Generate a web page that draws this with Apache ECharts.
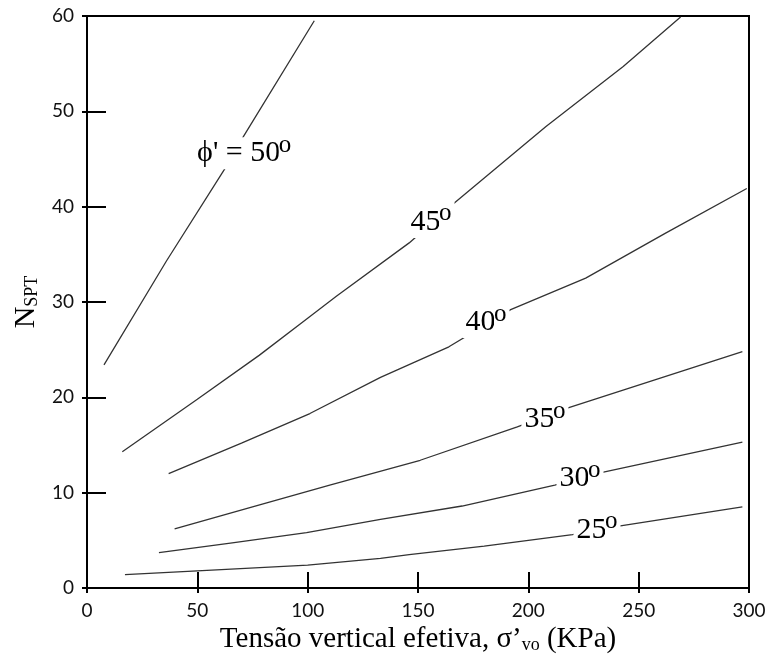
<!DOCTYPE html>
<html>
<head>
<meta charset="utf-8">
<script src="https://cdn.jsdelivr.net/npm/echarts@6/dist/echarts.min.js"></script>
<style>
  html, body { margin: 0; padding: 0; background: #fff; }
  #chart { width: 784px; height: 661px; }
</style>
</head>
<body>
<div id="chart"></div>
<script>
// N_SPT versus effective vertical stress, one curve per friction angle ϕ'
const xTicks = [0, 50, 100, 150, 200, 250, 300];
const yTicks = [0, 10, 20, 30, 40, 50, 60];

const curve50 = [[7.7, 23.4], [36, 34.3], [62.5, 44.0], [71, 47.4], [103, 59.5]];
const curve45 = [[16, 14.3], [50, 19.8], [78, 24.4], [100, 28.3], [113, 30.6], [146, 36.2], [167, 40.5], [208, 48.4], [243, 54.7], [269, 59.9]];
const curve40 = [[37, 12.0], [70, 15.2], [101, 18.3], [133, 22.1], [164, 25.3], [192, 29.2], [226, 32.5], [262, 37.2], [299, 41.9]];
const curve35 = [[39.7, 6.2], [75, 8.5], [110, 10.8], [151, 13.4], [195, 16.9], [218, 18.9], [297, 24.8]];
const curve30 = [[32.6, 3.7], [65, 4.7], [99.5, 5.8], [133, 7.2], [170, 8.6], [212, 10.8], [233, 12.1], [297, 15.3]];
const curve25 = [[17.2, 1.4], [50, 1.8], [100, 2.4], [133, 3.1], [146, 3.5], [180, 4.4], [220, 5.6], [241, 6.5], [297, 8.5]];

// friction angle labels and where they sit along each curve
const angleNames = ["ϕ' = 50", '45', '40', '35', '30', '25'];
const angleLabelAt = [[71.1, 45.6], [155.8, 38.4], [180.7, 27.9], [207.4, 17.7], [223.3, 11.5], [231, 6.1]];

const curves = [curve50, curve45, curve40, curve35, curve30, curve25];

const serif = '"Liberation Serif", "Times New Roman", serif';
const sans = 'Lato, "Open Sans", sans-serif';
const labelSize = 30;
const degreeSize = 25;

// text widths, so the raised degree mark can be placed right after each label
const measureCtx = document.createElement('canvas').getContext('2d');
function textWidth(text, size) {
  measureCtx.font = size + 'px ' + serif;
  return measureCtx.measureText(text).width;
}
const degreeWidth = textWidth('o', degreeSize);

const lineSeries = curves.map(function (c) {
  return {
    type: 'line',
    data: c,
    showSymbol: false,
    smooth: false,
    lineStyle: { color: '#333', width: 1.3 },
    silent: true,
    z: 2
  };
});

// angle values, shifted left by half the degree mark so the pair is centred
const labelSeries = {
  type: 'scatter',
  symbolSize: 0,
  silent: true,
  z: 5,
  itemStyle: { opacity: 1 },
  data: angleLabelAt.map(function (p, i) {
    return { value: p, name: angleNames[i] };
  }),
  label: {
    show: true,
    position: 'inside',
    offset: [-degreeWidth / 2, 0],
    formatter: '{b}',
    fontFamily: serif,
    fontSize: labelSize,
    color: '#000',
    lineHeight: 32,
    backgroundColor: '#fff',
    padding: [0, 1, 0, 3]
  }
};

// raised degree marks
const degreeSeries = {
  type: 'scatter',
  symbolSize: 0,
  silent: true,
  z: 6,
  itemStyle: { opacity: 1 },
  data: angleLabelAt.map(function (p, i) {
    const w = textWidth(angleNames[i], labelSize);
    return {
      value: p,
      name: 'o',
      label: { offset: [w / 2 + 1, -8] }
    };
  }),
  label: {
    show: true,
    position: 'inside',
    formatter: '{b}',
    fontFamily: serif,
    fontSize: degreeSize,
    color: '#000',
    lineHeight: 24,
    backgroundColor: '#fff',
    padding: [0, 3, 0, 0]
  }
};

const axisLine = { show: true, lineStyle: { color: '#000', width: 2 } };

const option = {
  backgroundColor: '#fff',
  animation: false,
  grid: {
    left: 87, right: 35, top: 16, bottom: 73,
    show: true, borderColor: '#000', borderWidth: 2
  },
  xAxis: [{
    type: 'value', min: xTicks[0], max: xTicks[xTicks.length - 1], interval: 50,
    axisLine: axisLine,
    axisTick: { show: true, inside: true, length: 16, lineStyle: { color: '#000', width: 2 } },
    axisLabel: { color: '#111', fontFamily: sans, fontSize: 19, margin: 13 },
    splitLine: { show: false },
    name: 'Tensão vertical efetiva, σ’{s|vo} (KPa)',
    nameLocation: 'middle',
    nameGap: 27,
    nameTextStyle: {
      fontFamily: serif, fontSize: 29, color: '#000',
      rich: { s: { fontFamily: serif, fontSize: 18, color: '#000', verticalAlign: 'bottom', padding: [5, 0, 0, 0] } }
    }
  }, {
    type: 'value', min: xTicks[0], max: xTicks[xTicks.length - 1], interval: 50,
    position: 'bottom',
    axisLine: { show: false },
    axisTick: { show: true, inside: false, length: 5, lineStyle: { color: '#000', width: 2 } },
    axisLabel: { show: false },
    splitLine: { show: false }
  }],
  yAxis: [{
    type: 'value', min: yTicks[0], max: yTicks[yTicks.length - 1], interval: 10,
    axisLine: axisLine,
    axisTick: { show: true, inside: true, length: 19, lineStyle: { color: '#000', width: 2 } },
    axisLabel: { color: '#111', fontFamily: sans, fontSize: 19, margin: 13 },
    splitLine: { show: false },
    name: '{n|N}{s|SPT}',
    nameLocation: 'middle',
    nameGap: 39,
    nameRotate: 90,
    nameTextStyle: {
      rich: {
        n: { fontFamily: serif, fontSize: 30, color: '#000' },
        s: { fontFamily: serif, fontSize: 18, color: '#000', verticalAlign: 'bottom' }
      }
    }
  }, {
    type: 'value', min: yTicks[0], max: yTicks[yTicks.length - 1], interval: 10,
    position: 'left',
    axisLine: { show: false },
    axisTick: { show: true, inside: false, length: 5, lineStyle: { color: '#000', width: 2 } },
    axisLabel: { show: false },
    splitLine: { show: false }
  }],
  series: lineSeries.concat([labelSeries, degreeSeries])
};

const chart = echarts.init(document.getElementById('chart'), null, { renderer: 'canvas' });
chart.setOption(option);
</script>
</body>
</html>
